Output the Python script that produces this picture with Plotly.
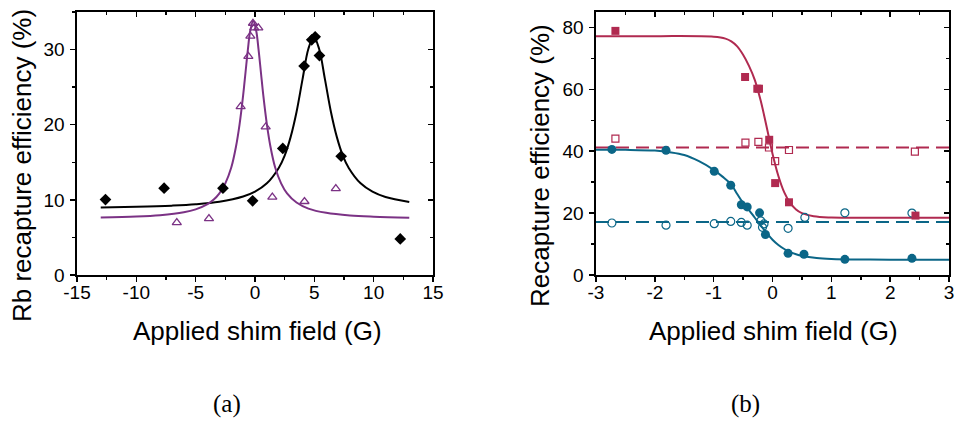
import plotly.graph_objects as go

# ---------------- data: panel (a) ----------------
rb_x = [-12.6, -7.66, -2.7, -0.2, 2.34, 4.14, 4.78, 5.07, 5.43, 7.26, 12.24]
rb_y = [10.04, 11.56, 11.56, 9.87, 16.84, 27.8, 31.3, 31.7, 29.2, 15.8, 4.8]

tri_x = [-6.59, -3.88, -1.21, -0.56, -0.39, -0.17, -0.06, 0.28, 0.9, 1.46, 4.17, 6.81]
tri_y = [6.98, 7.5, 22.4, 29.1, 31.8, 33.5, 32.9, 32.9, 19.7, 10.36, 9.78, 11.5]

fit_black_x = [-13, -10, -7, -5, -3, -1, 0, 1, 2, 2.5, 3, 3.5, 4, 4.5, 4.95,
               5.4, 5.9, 6.4, 6.9, 7.4, 7.9, 8.9, 9.9, 11, 13]
fit_black_y = [8.99, 9.08, 9.23, 9.41, 9.75, 10.44, 11.09, 12.2, 14.25, 15.9, 18.35,
               21.7, 26.0, 30.1, 31.7, 30.1, 26.0, 21.7, 18.35, 15.9, 14.25, 12.2,
               11.09, 10.38, 9.72]

fit_purple_x = [-13, -10, -8, -6, -5, -4, -3.5, -3, -2.5, -2, -1.6, -1.3, -1.0, -0.8,
                -0.6, -0.4, -0.15, 0.1, 0.3, 0.5, 0.7, 1.0, 1.3, 1.7, 2.2, 2.7, 3.5,
                4.5, 6, 8, 10, 13]
fit_purple_y = [7.64, 7.77, 7.96, 8.35, 8.74, 9.44, 10.0, 10.87, 12.2, 14.3, 17.1,
                20.05, 23.9, 26.95, 30.0, 32.5, 33.8, 32.5, 30.0, 26.95, 23.9, 20.05,
                17.1, 14.3, 12.2, 10.87, 9.65, 8.84, 8.27, 7.92, 7.76, 7.63]

xa_tickvals = [-15, -10, -5, 0, 5, 10, 15]
xa_ticktext = ["-15", "-10", "-5", "0", "5", "10", "15"]
ya_tickvals = [0, 10, 20, 30]

# ---------------- data: panel (b) ----------------
red_fill_x = [-2.67, -0.466, -0.258, -0.23, -0.056, 0.045, 0.28, 2.43]
red_fill_y = [78.9, 64.0, 60.2, 60.2, 43.7, 29.7, 23.5, 19.2]

red_open_x = [-2.67, -0.46, -0.24, -0.06, 0.045, 0.28, 2.42]
red_open_y = [44.1, 42.8, 43.0, 41.2, 36.8, 40.4, 39.9]

blue_fill_x = [-2.73, -1.81, -0.99, -0.71, -0.53, -0.43, -0.22, -0.12, 0.265, 0.535, 1.23, 2.37]
blue_fill_y = [40.6, 40.3, 33.5, 29.0, 22.7, 22.0, 20.1, 13.1, 7.0, 6.7, 5.06, 5.38]

blue_open_x = [-2.73, -1.81, -0.99, -0.71, -0.53, -0.43, -0.20, -0.17, -0.145, 0.265, 0.55, 1.23, 2.37]
blue_open_y = [16.8, 16.1, 16.6, 17.3, 17.0, 16.1, 17.5, 15.4, 16.5, 15.1, 18.6, 20.1, 20.0]

fit_red_x = [-3, -2, -1, -0.8, -0.7, -0.6, -0.5, -0.4, -0.3, -0.2, -0.1, 0, 0.1, 0.2,
             0.3, 0.4, 0.5, 0.7, 1.0, 2, 3]
fit_red_y = [77.2, 77.2, 77.0, 76.4, 75.5, 73.9, 71.2, 67.6, 63.0, 56.3, 47.9, 39.2,
             32.0, 26.7, 23.3, 21.2, 20.0, 18.96, 18.57, 18.5, 18.5]

fit_blue_x = [-3, -2.5, -2, -1.75, -1.5, -1.25, -1, -0.85, -0.7, -0.6, -0.5, -0.4, -0.3,
              -0.2, -0.1, 0, 0.1, 0.2, 0.3, 0.4, 0.5, 0.75, 1, 1.5, 2, 3]
fit_blue_y = [40.5, 40.45, 40.2, 39.7, 38.8, 36.8, 34.0, 31.8, 29.2, 26.2, 23.3, 21.0,
              18.5, 16.0, 13.6, 11.4, 9.7, 8.4, 7.4, 6.7, 6.2, 5.5, 5.2, 5.0, 4.95, 4.95]

dash_x = [-3, 3]
red_dash_y = [41.2, 41.2]
blue_dash_y = [17.1, 17.1]

xb_tickvals = [-3, -2, -1, 0, 1, 2, 3]
xb_ticktext = ["-3", "-2", "-1", "0", "1", "2", "3"]
yb_tickvals = [0, 20, 40, 60, 80]

BLACK = "#000000"
PURPLE = "#7B3285"
RED = "#B02A50"
BLUE = "#0B6687"

fig = go.Figure()

# panel (a)
fig.add_trace(go.Scatter(x=fit_black_x, y=fit_black_y, mode="lines", line=dict(color=BLACK, width=2, shape="spline"),
                         xaxis="x", yaxis="y", showlegend=False))
fig.add_trace(go.Scatter(x=fit_purple_x, y=fit_purple_y, mode="lines", line=dict(color=PURPLE, width=2, shape="spline"),
                         xaxis="x", yaxis="y", showlegend=False))
fig.add_trace(go.Scatter(x=rb_x, y=rb_y, mode="markers", marker=dict(symbol="diamond", size=9, color=BLACK),
                         xaxis="x", yaxis="y", showlegend=False))
fig.add_trace(go.Scatter(x=tri_x, y=tri_y, mode="markers",
                         marker=dict(symbol="triangle-up-open", size=8, color=PURPLE, line=dict(width=1.3, color=PURPLE)),
                         xaxis="x", yaxis="y", showlegend=False))

# panel (b)
fig.add_trace(go.Scatter(x=dash_x, y=red_dash_y, mode="lines", line=dict(color=RED, width=2, dash="13px,7px"),
                         xaxis="x2", yaxis="y2", showlegend=False))
fig.add_trace(go.Scatter(x=dash_x, y=blue_dash_y, mode="lines", line=dict(color=BLUE, width=2, dash="13px,7px"),
                         xaxis="x2", yaxis="y2", showlegend=False))
fig.add_trace(go.Scatter(x=fit_red_x, y=fit_red_y, mode="lines", line=dict(color=RED, width=2, shape="spline"),
                         xaxis="x2", yaxis="y2", showlegend=False))
fig.add_trace(go.Scatter(x=fit_blue_x, y=fit_blue_y, mode="lines", line=dict(color=BLUE, width=2, shape="spline"),
                         xaxis="x2", yaxis="y2", showlegend=False))
fig.add_trace(go.Scatter(x=red_open_x, y=red_open_y, mode="markers",
                         marker=dict(symbol="square-open", size=7, color=RED, line=dict(width=1.2, color=RED)),
                         xaxis="x2", yaxis="y2", showlegend=False))
fig.add_trace(go.Scatter(x=blue_open_x, y=blue_open_y, mode="markers",
                         marker=dict(symbol="circle-open", size=8, color=BLUE, line=dict(width=1.2, color=BLUE)),
                         xaxis="x2", yaxis="y2", showlegend=False))
fig.add_trace(go.Scatter(x=red_fill_x, y=red_fill_y, mode="markers", marker=dict(symbol="square", size=8, color=RED),
                         xaxis="x2", yaxis="y2", showlegend=False))
fig.add_trace(go.Scatter(x=blue_fill_x, y=blue_fill_y, mode="markers", marker=dict(symbol="circle", size=9, color=BLUE),
                         xaxis="x2", yaxis="y2", showlegend=False))

# invisible traces so mirror axes get drawn
fig.add_trace(go.Scatter(x=[None], y=[None], xaxis="x3", yaxis="y3", showlegend=False, hoverinfo="skip"))
fig.add_trace(go.Scatter(x=[None], y=[None], xaxis="x4", yaxis="y4", showlegend=False, hoverinfo="skip"))

W, H = 959, 424
xa_dom = [77 / W, 433 / W]
xb_dom = [596 / W, 949 / W]
y_dom = [1 - 275 / H, 1 - 12 / H]

tickfont = dict(family="Liberation Sans, Arial, sans-serif", size=19, color="black")
common = dict(showline=True, linecolor="black", linewidth=1.6, showgrid=False, zeroline=False, automargin=False,
              ticks="outside", ticklen=5, tickwidth=1.5, tickcolor="black", tickfont=tickfont, tickmode="array")
mirror = dict(showline=False, showgrid=False, zeroline=False, automargin=False, ticks="inside", ticklen=5,
              tickwidth=1.5, tickcolor="black", showticklabels=False, tickmode="array")


def mnr(d, side):
    return dict(dtick=d, tick0=0, ticks=side, ticklen=3, tickwidth=1.5, tickcolor="black", showgrid=False)


fig.update_layout(
    template="none",
    width=W, height=H, margin=dict(l=0, r=0, t=0, b=0, pad=0),
    paper_bgcolor="white", plot_bgcolor="white",
    xaxis=dict(domain=xa_dom, range=[-15, 15], tickvals=xa_tickvals, ticktext=xa_ticktext, anchor="y", mirror=True,
               minor=mnr(2.5, "outside"), ticklabelstandoff=-5, **common),
    yaxis=dict(domain=y_dom, range=[0, 35], tickvals=ya_tickvals, anchor="x", mirror=True,
               minor=mnr(5, "outside"), ticklabelstandoff=2, **common),
    xaxis3=dict(range=[-15, 15], tickvals=xa_tickvals, overlaying="x", side="top", anchor="y3",
                minor=mnr(2.5, "inside"), **mirror),
    yaxis3=dict(range=[0, 35], tickvals=ya_tickvals, overlaying="y", side="right", anchor="x3",
                minor=mnr(5, "inside"), **mirror),
    xaxis2=dict(domain=xb_dom, range=[-3, 3], tickvals=xb_tickvals, ticktext=xb_ticktext, anchor="y2", mirror=True,
                minor=mnr(0.5, "outside"), ticklabelstandoff=-5, **common),
    yaxis2=dict(domain=y_dom, range=[0, 85], tickvals=yb_tickvals, anchor="x2", mirror=True,
                minor=mnr(10, "outside"), ticklabelstandoff=2, **common),
    xaxis4=dict(range=[-3, 3], tickvals=xb_tickvals, overlaying="x2", side="top", anchor="y4",
                minor=mnr(0.5, "inside"), **mirror),
    yaxis4=dict(range=[0, 85], tickvals=yb_tickvals, overlaying="y2", side="right", anchor="x4",
                minor=mnr(10, "inside"), **mirror),
)

title_font = dict(family="Liberation Sans, Arial, sans-serif", size=26, color="black")
cap_font = dict(family="Liberation Serif, Times New Roman, serif", size=25, color="black")

anns = [
    dict(text="Applied shim field (G)", x=257 / W, y=1 - 331 / H, font=title_font),
    dict(text="Applied shim field (G)", x=773 / W, y=1 - 331 / H, font=title_font),
    dict(text="Rb recapture efficiency (%)", x=22 / W, y=1 - 166 / H, textangle=-90, font=title_font),
    dict(text="Recapture efficiency (%)", x=540 / W, y=1 - 166 / H, textangle=-90, font=title_font),
    dict(text="(a)", x=227 / W, y=1 - 404 / H, font=cap_font),
    dict(text="(b)", x=745 / W, y=1 - 404 / H, font=cap_font),
]
for a in anns:
    fig.add_annotation(xref="paper", yref="paper", xanchor="center", yanchor="middle", showarrow=False, **a)

fig.write_html("out.html", config={"displayModeBar": False, "staticPlot": True},
               post_script="document.body.style.margin='0';document.body.style.padding='0';"
                           "document.documentElement.style.overflow='hidden';")
